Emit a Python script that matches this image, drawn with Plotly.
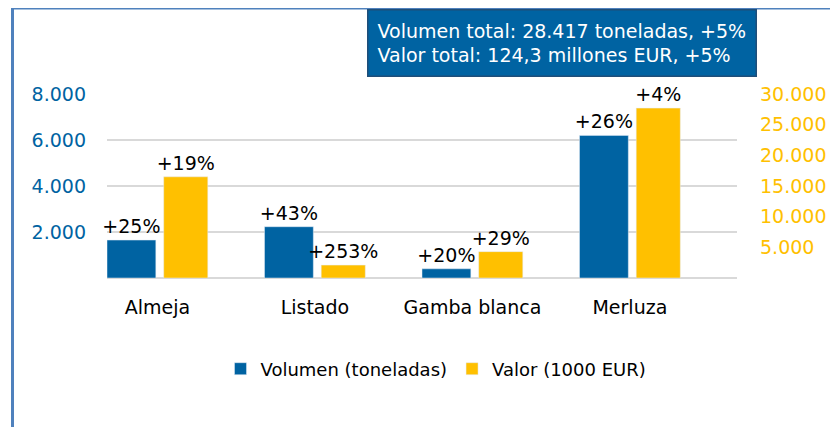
import plotly.graph_objects as go

categories = ["Almeja", "Listado", "Gamba blanca", "Merluza"]
volumen = [1650, 2230, 400, 6200]
valor = [16500, 2100, 4300, 27700]
vol_change = ["+25%", "+43%", "+20%", "+26%"]
val_change = ["+19%", "+253%", "+29%", "+4%"]
left_ticks = [2000, 4000, 6000, 8000]
right_ticks = [5000, 10000, 15000, 20000, 25000, 30000]
series_names = ["Volumen (toneladas)", "Valor (1000 EUR)"]
total_text = ["Volumen total: 28.417 toneladas, +5%", "Valor total: 124,3 millones EUR, +5%"]

BLUE = "#0063A2"
YELLOW = "#FFC000"
FONT = "DejaVu Sans"

# page body has an 8px margin; work in screen pixels and offset
OFF = 8
W, H = 838 - OFF, 427 - OFF
L, R, T, B = 107 - OFF, 101, 94 - OFF, 149
pw, ph = W - L - R, H - T - B

def px_x(x):
    return (x - OFF - L) / pw

def px_y(y):
    return (H - B - (y - OFF)) / ph

fig = go.Figure()
fig.add_trace(go.Bar(
    x=categories, y=volumen, name=series_names[0], marker_color=BLUE,
    offset=-0.32, width=0.31, text=vol_change, textposition="outside",
    cliponaxis=False, constraintext="none",
    textfont=dict(family=FONT, size=19, color="black"), yaxis="y",
))
fig.add_trace(go.Bar(
    x=categories, y=valor, name=series_names[1], marker_color=YELLOW,
    offset=0.04, width=0.28, text=val_change, textposition="outside",
    cliponaxis=False, constraintext="none",
    textfont=dict(family=FONT, size=19, color="black"), yaxis="y2",
))

fig.update_layout(
    width=W, height=H,
    margin=dict(l=L, r=R, t=T, b=B, autoexpand=False),
    paper_bgcolor="white", plot_bgcolor="white",
    barmode="overlay",
    separators=",.",
    font=dict(family=FONT, size=18, color="black"),
    xaxis=dict(type="category", range=[-0.32, 3.68], showgrid=False, showline=False,
               ticks="", tickfont=dict(family=FONT, size=19, color="black"),
               ticklabelstandoff=16),
    yaxis=dict(range=[0, 8000], tickvals=left_ticks, tickformat=",d",
               showgrid=True, gridcolor="#D9D9D9", gridwidth=2,
               zeroline=True, zerolinecolor="#D9D9D9", zerolinewidth=2,
               showline=False, ticks="", ticklabelstandoff=20,
               tickfont=dict(family=FONT, size=19, color=BLUE)),
    yaxis2=dict(range=[0, 30000], tickvals=right_ticks, tickformat=",d",
                overlaying="y", side="right", showgrid=False, zeroline=False,
                showline=False, ticks="", ticklabelstandoff=22,
                tickfont=dict(family=FONT, size=19, color=YELLOW)),
    legend=dict(orientation="h", x=px_x(436), xanchor="center",
                y=px_y(369), yanchor="middle", traceorder="normal",
                font=dict(family=FONT, size=18, color="black"),
                itemwidth=30, bgcolor="rgba(0,0,0,0)"),
    showlegend=True,
)

fig.add_annotation(
    xref="paper", yref="paper", x=px_x(367), y=px_y(9),
    xanchor="left", yanchor="top", showarrow=False, align="left",
    text="<br>".join(total_text),
    font=dict(family=FONT, size=19, color="white"),
    bgcolor=BLUE, bordercolor="#1F4E79", borderwidth=1.5, borderpad=9,
)

border = "#4F81BD"
fig.add_shape(type="line", xref="paper", yref="paper",
              x0=px_x(12.5), x1=px_x(12.5), y0=px_y(440), y1=px_y(8),
              line=dict(color=border, width=3))
fig.add_shape(type="line", xref="paper", yref="paper",
              x0=px_x(11), x1=px_x(850), y0=px_y(8), y1=px_y(8),
              line=dict(color=border, width=3))

fig.write_html("out.html")
